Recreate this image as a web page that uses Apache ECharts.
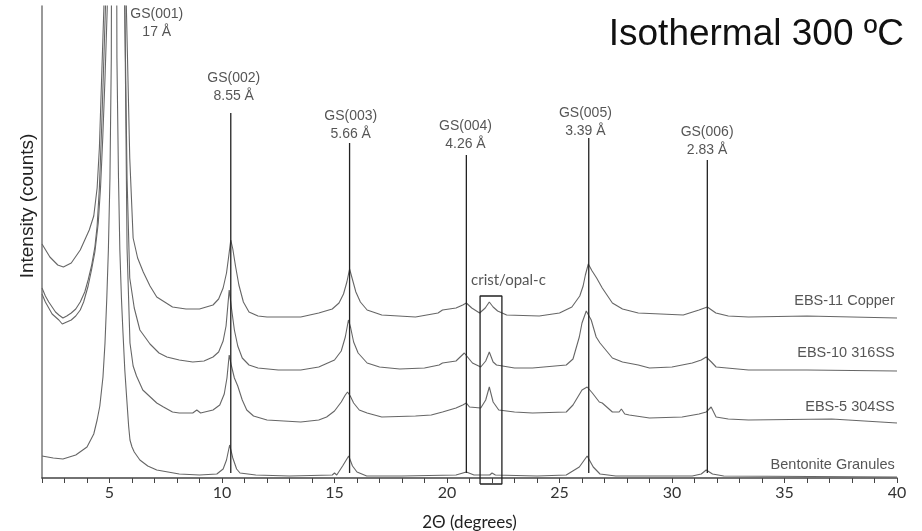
<!DOCTYPE html>
<html>
<head>
<meta charset="utf-8">
<title>Isothermal 300 ºC</title>
<script src="https://cdn.jsdelivr.net/npm/echarts@6.0.0/dist/echarts.min.js"></script>
<style>
  html, body { margin: 0; padding: 0; background: #fff; }
  #chart { width: 922px; height: 531px; }
</style>
</head>
<body>
<div id="chart"></div>
<script>
// XRD patterns, [2theta (deg), intensity (arb. counts)]
const copper = [
  [2.0, 234], [2.35, 221], [2.7, 213], [2.95, 211], [3.3, 215], [3.7, 228], [4.1, 248], [4.3, 262],
  [4.45, 290], [4.55, 330], [4.65, 400], [4.75, 470], [5.2, 1400], [5.75, 470], [5.9, 320], [6.05, 240],
  [6.25, 220], [6.5, 206], [6.8, 192], [7.1, 181], [7.8, 171], [8.4, 169], [9.0, 169], [9.6, 173],
  [9.85, 179], [10.05, 190], [10.2, 205], [10.3, 222], [10.39, 238], [10.48, 229], [10.6, 212], [10.75, 193],
  [10.95, 176], [11.2, 166], [11.6, 162], [12.0, 161], [13.5, 161], [14.3, 165], [14.9, 169], [15.2, 175],
  [15.4, 184], [15.55, 196], [15.67, 209], [15.78, 200], [15.95, 186], [16.15, 176], [16.45, 168], [17.1, 163],
  [18.6, 161], [19.6, 165], [19.8, 168], [20.4, 170], [20.7, 173], [20.86, 175], [21.1, 170], [21.45, 165],
  [21.7, 170], [21.88, 176], [22.05, 171], [22.25, 167], [22.65, 163], [24.1, 162], [25.0, 165], [25.55, 171],
  [25.9, 182], [26.05, 192], [26.15, 203], [26.28, 214], [26.45, 207], [26.65, 200], [26.9, 190], [27.35, 175],
  [27.8, 169], [28.5, 165], [30.5, 163], [31.2, 168], [31.57, 171], [31.95, 165], [32.5, 162], [33.4, 161],
  [36.0, 162], [40.0, 160]
];
const ss316 = [
  [2.0, 190], [2.15, 182], [2.3, 176], [2.45, 171], [2.6, 166], [2.75, 163], [2.93, 160], [3.1, 162],
  [3.3, 165], [3.5, 169], [3.7, 176], [3.9, 186], [4.05, 198], [4.2, 212], [4.35, 231], [4.45, 252],
  [4.55, 290], [4.65, 350], [4.75, 420], [4.82, 470], [5.2, 1400], [5.68, 470], [5.78, 300], [5.9, 200],
  [6.1, 170], [6.35, 148], [6.8, 134], [7.2, 125], [7.55, 121], [8.1, 118], [8.7, 116], [9.2, 117],
  [9.6, 121], [9.85, 126], [10.05, 137], [10.18, 152], [10.32, 188], [10.42, 170], [10.55, 148], [10.7, 132],
  [10.9, 120], [11.2, 113], [11.6, 110], [12.5, 108], [13.5, 108], [14.3, 111], [15.0, 118], [15.3, 127],
  [15.48, 141], [15.62, 158], [15.72, 150], [15.85, 136], [16.05, 125], [16.45, 115], [17.0, 111], [17.9, 109],
  [19.0, 110], [19.65, 113], [19.8, 115], [20.4, 117], [20.77, 125], [21.13, 115], [21.5, 111], [21.72, 117],
  [21.88, 126], [22.05, 116], [22.2, 113], [23.0, 110], [23.8, 110], [25.3, 113], [25.6, 119], [25.88, 141],
  [26.0, 155], [26.19, 167], [26.41, 158], [26.63, 141], [26.8, 135], [27.35, 120], [27.8, 116], [28.5, 113],
  [29.0, 110], [30.0, 111], [30.9, 115], [31.3, 118], [31.52, 121], [31.75, 116], [31.96, 111], [33.4, 108],
  [36.0, 108], [40.0, 107]
];
const ss304 = [
  [2.0, 184], [2.15, 176], [2.3, 170], [2.45, 164], [2.6, 161], [2.75, 158], [2.9, 154], [3.1, 156],
  [3.3, 158], [3.5, 162], [3.7, 168], [3.85, 176], [4.05, 192], [4.2, 208], [4.35, 226], [4.5, 255],
  [4.6, 290], [4.7, 340], [4.8, 400], [4.9, 470], [5.25, 1400], [5.68, 470], [5.78, 230], [5.91, 135],
  [6.05, 112], [6.2, 102], [6.48, 88], [7.1, 75], [7.4, 71], [7.8, 66], [8.1, 65], [8.7, 65],
  [8.88, 68], [9.05, 65], [9.6, 68], [9.9, 73], [10.1, 84], [10.22, 100], [10.32, 123], [10.42, 112],
  [10.55, 100], [10.7, 92], [10.9, 78], [11.1, 68], [11.4, 62], [12.0, 58], [13.5, 56], [14.3, 58],
  [14.65, 61], [15.0, 67], [15.3, 76], [15.48, 83], [15.58, 86], [15.7, 82], [15.85, 75], [16.1, 68],
  [16.45, 65], [17.1, 61], [18.6, 62], [19.3, 63], [19.8, 66], [20.4, 70], [20.7, 73], [20.86, 75],
  [21.0, 71], [21.5, 70], [21.72, 78], [21.88, 91], [22.05, 76], [22.3, 68], [23.0, 66], [23.8, 65],
  [25.3, 66], [25.6, 73], [26.0, 88], [26.23, 91], [26.46, 85], [26.77, 76], [26.9, 75], [27.35, 66],
  [27.65, 66], [27.75, 69], [27.9, 64], [28.1, 63], [29.0, 60], [30.45, 61], [31.2, 64], [31.52, 66],
  [31.74, 71], [31.96, 61], [32.5, 59], [33.4, 58], [37.1, 59], [40.0, 55]
];
const bentonite = [
  [2.0, 22], [2.5, 20], [2.93, 19], [3.5, 23], [4.0, 31], [4.3, 44], [4.45, 58], [4.57, 72],
  [4.71, 101], [4.8, 135], [4.88, 180], [4.95, 228], [5.02, 300], [5.08, 420], [5.2, 1600], [5.33, 420],
  [5.4, 300], [5.46, 228], [5.53, 180], [5.6, 145], [5.68, 108], [5.77, 78], [5.85, 52], [5.91, 38],
  [6.0, 31], [6.1, 26], [6.35, 18], [6.7, 12], [7.1, 8], [8.1, 4], [9.0, 3], [9.77, 4],
  [10.05, 9], [10.2, 18], [10.34, 33], [10.48, 20], [10.65, 9], [10.8, 5], [11.5, 3], [13.0, 2],
  [14.9, 3], [15.0, 5], [15.1, 3], [15.36, 12], [15.63, 22], [15.8, 12], [16.0, 6], [16.43, 2],
  [18.0, 2], [20.4, 3], [20.86, 6], [21.2, 3], [21.9, 3], [22.0, 5], [22.15, 3], [24.0, 2],
  [25.3, 3], [25.88, 11], [26.23, 22], [26.5, 11], [26.8, 4], [27.5, 2], [30.9, 2], [31.3, 4],
  [31.52, 8], [31.8, 4], [32.3, 2], [40.0, 1]
];

const sampleNames = ["EBS-11 Copper", "EBS-10 316SS", "EBS-5 304SS", "Bentonite Granules"];
const sampleLabelY = [177, 125, 71, 13];

// GS basal reflections
const peakNames = ["GS(001)", "GS(002)", "GS(003)", "GS(004)", "GS(005)", "GS(006)"];
const peakD = ["17 Å", "8.55 Å", "5.66 Å", "4.26 Å", "3.39 Å", "2.83 Å"];
const peakLabelX = [7.1, 10.52, 15.72, 20.82, 26.15, 31.56];
const peakLabelY = [455, 391, 353, 343, 356, 337];
const refPos = [10.39, 15.67, 20.86, 26.3, 31.57];
const refTop = [365, 335, 323, 340, 318];
const refBottom = 5;

// cristobalite / opal-C window
const cristRange = [21.47, 22.44];
const cristTop = 182;
const cristBottom = -6;
const cristLabel = [22.73, 198];

const curveColor = "#666";
const lineFont = "'Liberation Sans', Arial, sans-serif";
const axisFont = "Lato, 'Liberation Sans', sans-serif";

const chart = echarts.init(document.getElementById("chart"));

const seriesConfig = [];
[copper, ss316, ss304, bentonite].forEach((d, i) => {
  seriesConfig.push({
    name: sampleNames[i],
    type: "line",
    data: d,
    showSymbol: false,
    symbol: "none",
    silent: true,
    lineStyle: { color: curveColor, width: 1.1 },
  });
});

refPos.forEach((x, i) => {
  seriesConfig.push({
    type: "line",
    data: [[x, refBottom], [x, refTop[i]]],
    showSymbol: false,
    symbol: "none",
    silent: true,
    lineStyle: { color: "#222", width: 1.3 },
  });
});

seriesConfig.push({
  type: "line",
  clip: false,
  data: [
    [cristRange[0], cristBottom], [cristRange[0], cristTop],
    [cristRange[1], cristTop], [cristRange[1], cristBottom],
    [cristRange[0], cristBottom],
  ],
  showSymbol: false,
  symbol: "none",
  silent: true,
  lineStyle: { color: "#222", width: 1.3 },
});

// text annotations
seriesConfig.push({
  type: "scatter",
  symbolSize: 0,
  silent: true,
  data: peakNames.map((n, i) => ({ name: n + "\n" + peakD[i], value: [peakLabelX[i], peakLabelY[i]] })),
  label: {
    show: true,
    position: [0, 0],
    align: "center",
    verticalAlign: "middle",
    formatter: "{b}",
    fontSize: 14,
    lineHeight: 18,
    color: "#2a2a2a",
    fontFamily: lineFont,
  },
});
seriesConfig.push({
  type: "scatter",
  symbolSize: 0,
  silent: true,
  data: sampleNames.map((n, i) => ({ name: n, value: [39.9, sampleLabelY[i]] })),
  label: {
    show: true,
    position: [0, 0],
    align: "right",
    verticalAlign: "middle",
    formatter: "{b}",
    fontSize: 14.5,
    color: "#2a2a2a",
    fontFamily: lineFont,
  },
});
seriesConfig.push({
  type: "scatter",
  symbolSize: 0,
  silent: true,
  data: [{ name: "crist/opal-c", value: cristLabel }],
  label: {
    show: true,
    position: [0, 0],
    align: "center",
    verticalAlign: "middle",
    formatter: "{b}",
    fontSize: 15,
    color: "#2a2a2a",
    fontFamily: axisFont,
  },
});

const option = {
  animation: false,
  title: {
    text: "Isothermal 300 ºC",
    right: 13,
    top: 11,
    textStyle: { fontSize: 37, fontWeight: "normal", color: "#111", fontFamily: lineFont },
  },
  grid: { left: 42, right: 25, top: 6, bottom: 53, containLabel: false, outerBoundsMode: "none" },
  xAxis: {
    type: "value",
    min: 2,
    max: 40,
    interval: 1,
    name: "2Θ (degrees)",
    nameLocation: "middle",
    nameGap: 36,
    nameTextStyle: { fontSize: 17, color: "#222", fontFamily: axisFont },
    axisLine: { lineStyle: { color: "#444", width: 1.5 } },
    axisTick: { show: true, length: 5, lineStyle: { color: "#444", width: 1 } },
    axisLabel: {
      margin: 7,
      fontSize: 16,
      color: "#333",
      fontFamily: axisFont,
      formatter: (v) => (v % 5 === 0 ? String(v) : ""),
    },
    splitLine: { show: false },
  },
  yAxis: {
    type: "value",
    min: 0,
    max: 472,
    name: "Intensity (counts)",
    nameLocation: "middle",
    nameGap: 5,
    nameTextStyle: { fontSize: 19, color: "#222", fontFamily: lineFont, padding: [0, 0, 0, 72] },
    axisLine: { show: true, lineStyle: { color: "#777", width: 1.5 } },
    axisTick: { show: false },
    axisLabel: { show: false },
    splitLine: { show: false },
  },
  series: seriesConfig,
};
chart.setOption(option);
</script>
</body>
</html>
